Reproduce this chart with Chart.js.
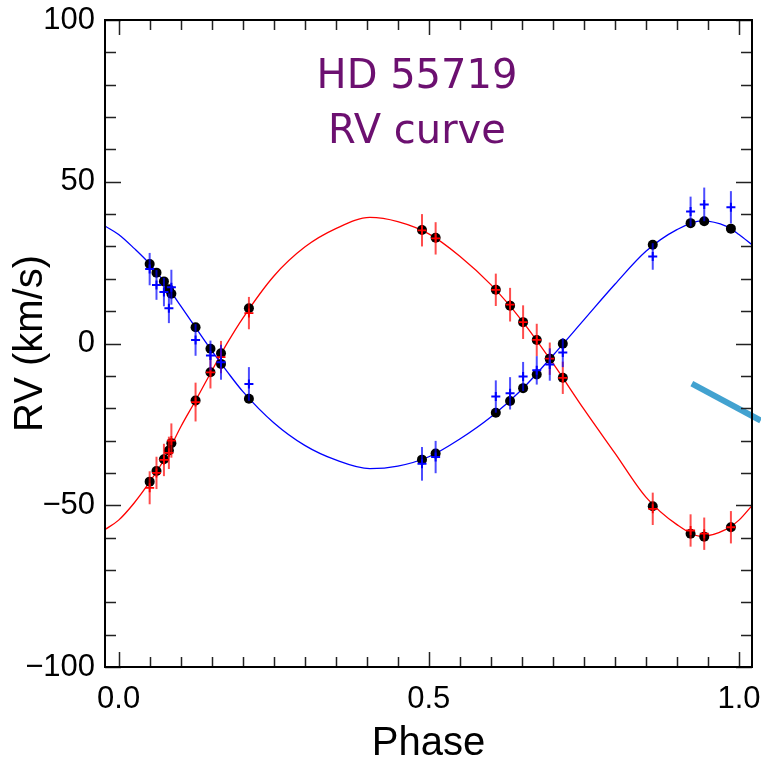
<!DOCTYPE html>
<html>
<head>
<meta charset="utf-8">
<script src="https://cdn.jsdelivr.net/npm/chart.js@4.4.0/dist/chart.umd.min.js"></script>
<style>
  html, body { margin: 0; padding: 0; background: #fff; }
</style>
</head>
<body>
<canvas id="rvChart" width="761" height="764"></canvas>
<script>
// phases of the spectra
const phase = [0.050, 0.061, 0.073, 0.081, 0.085, 0.124, 0.148, 0.165, 0.210, 0.489, 0.511,
  0.608, 0.631, 0.652, 0.674, 0.695, 0.716, 0.861, 0.922, 0.944, 0.987];

// primary (blue) : model values at the phases, measured RV, errors
const primaryModel = [24.6, 21.9, 19.2, 16.8, 15.4, 5.0, -1.6, -6.3, -17.1, -35.9, -34.0,
  -21.4, -17.8, -13.8, -9.6, -4.7, -0.1, 30.5, 37.2, 37.8, 35.5];
const primaryObs = [23.0, 18.1, 15.9, 10.9, 17.4, 1.1, -3.7, -5.8, -12.5, -37.2, -35.1,
  -16.4, -15.4, -10.2, -8.3, -6.5, -2.8, 26.9, 40.8, 43.0, 42.1];
const primaryErr = [5.0, 4.6, 4.4, 4.6, 5.4, 4.9, 4.6, 5.4, 5.2, 5.2, 5.0,
  5.0, 5.0, 4.5, 4.4, 5.0, 4.5, 4.1, 4.6, 5.2, 5.0];

// secondary (red)
const secondaryModel = [-42.7, -39.4, -35.8, -33.1, -30.8, -17.6, -8.9, -3.0, 10.9, 35.1, 32.7,
  16.6, 11.7, 6.6, 1.1, -4.7, -10.6, -50.3, -58.8, -59.7, -56.8];
const secondaryObs = [-44.6, -40.0, -36.0, -33.8, -30.0, -18.1, -8.9, -4.2, 9.4, 35.0, 32.5,
  16.6, 12.0, 6.6, 1.1, -4.7, -10.6, -51.1, -57.8, -58.8, -56.8];
const secondaryErr = [5.1, 5.0, 5.0, 5.0, 5.3, 6.0, 5.0, 5.0, 5.0, 5.0, 5.0,
  5.0, 5.2, 5.2, 5.0, 5.0, 5.0, 5.0, 5.0, 5.0, 5.0];

// fitted orbit curves
const curvePhase = [-0.022, 0.0, 0.025, 0.05, 0.075, 0.1, 0.125, 0.15, 0.175, 0.2, 0.25, 0.3, 0.35,
  0.405, 0.45, 0.5, 0.55, 0.6, 0.65, 0.7, 0.75, 0.8, 0.85, 0.9, 0.94, 0.98, 1.0, 1.021];
const primaryCurve = [36.3, 33.7, 29.4, 24.6, 18.6, 11.6, 4.7, -2.2, -8.7, -14.8, -24.5, -31.5, -36.0,
  -38.7, -37.9, -35.0, -29.5, -22.7, -14.2, -3.7, 7.3, 18.3, 28.5, 35.2, 37.9, 36.2, 33.7, 30.5];
const secondaryCurve = [-57.5, -54.6, -49.3, -42.8, -35.3, -25.8, -17.3, -8.5, 0.1, 7.8, 20.8, 29.8, 35.5,
  39.0, 37.7, 33.9, 27.0, 18.2, 7.1, -6.1, -20.3, -33.9, -47.5, -56.0, -59.6, -57.4, -54.6, -50.1];

// stray light blue stroke at the right
const strokeX = [0.924, 1.035];
const strokeY = [-12.4, -23.8];

const xTicks = [0.0, 0.5, 1.0];
const yTicks = [-100, -50, 0, 50, 100];
const titleLines = ["HD 55719", "RV curve"];

function pts(xs, ys) {
  return xs.map((x, i) => ({ x: x, y: ys[i] }));
}

// no extra room for the end labels, the plot box is fixed
function fixBox(s) {
  s.paddingLeft = 0;
  s.paddingRight = 0;
  s.paddingTop = 0;
  s.paddingBottom = 0;
}

const errorBars = {
  id: 'errorBars',
  beforeDatasetDraw(chart, args) {
    const ds = chart.data.datasets[args.index];
    if (!ds.errors) return;
    const ctx = chart.ctx;
    const xs = chart.scales.x, ys = chart.scales.y;
    ctx.save();
    ctx.strokeStyle = ds.errorColor;
    ctx.lineWidth = 2;
    ds.data.forEach((p, i) => {
      const px = xs.getPixelForValue(p.x);
      ctx.beginPath();
      ctx.moveTo(px, ys.getPixelForValue(p.y - ds.errors[i]));
      ctx.lineTo(px, ys.getPixelForValue(p.y + ds.errors[i]));
      ctx.stroke();
    });
    ctx.restore();
  }
};

// box round the plot, ticks pointing inwards on all four sides, and the label text
const frame = {
  id: 'frame',
  afterDraw(chart) {
    const ctx = chart.ctx;
    const a = chart.chartArea;
    const xs = chart.scales.x, ys = chart.scales.y;
    ctx.save();
    ctx.strokeStyle = '#222';
    ctx.lineWidth = 1.5;
    ctx.beginPath();
    for (let i = 0; i <= 20; i++) {
      const v = i * 0.05;
      const px = Math.round(xs.getPixelForValue(v)) + 0.5;
      const len = (i % 10 == 0) ? 15 : 10;
      ctx.moveTo(px, a.bottom); ctx.lineTo(px, a.bottom - len);
      ctx.moveTo(px, a.top); ctx.lineTo(px, a.top + len);
    }
    for (let i = -10; i <= 10; i++) {
      const py = Math.round(ys.getPixelForValue(i * 10)) + 0.5;
      const len = (i % 5 == 0) ? 16 : 11;
      ctx.moveTo(a.left, py); ctx.lineTo(a.left + len, py);
      ctx.moveTo(a.right, py); ctx.lineTo(a.right - len, py);
    }
    ctx.stroke();
    ctx.strokeStyle = '#000';
    ctx.lineWidth = 2;
    ctx.strokeRect(a.left, a.top, a.right - a.left, a.bottom - a.top);

    ctx.fillStyle = '#6c1070';
    ctx.font = '40px "DejaVu Sans"';
    ctx.textAlign = 'center';
    ctx.textBaseline = 'alphabetic';
    ctx.fillText(titleLines[0], 417, 88);
    ctx.fillText(titleLines[1], 417, 143);
    ctx.restore();
  }
};

const config = {
  type: 'scatter',
  data: {
    datasets: [
      {
        label: 'primary obs',
        data: pts(phase, primaryObs),
        errors: primaryErr,
        errorColor: 'rgba(0,0,255,0.7)',
        pointStyle: 'cross',
        pointRadius: 4.5,
        borderColor: '#0000ff',
        borderWidth: 2,
        order: 1,
      },
      {
        label: 'secondary obs',
        data: pts(phase, secondaryObs),
        errors: secondaryErr,
        errorColor: 'rgba(255,0,0,0.7)',
        pointStyle: 'cross',
        pointRadius: 4.5,
        borderColor: '#ff0000',
        borderWidth: 1.8,
        order: 2,
      },
      {
        label: 'primary model',
        data: pts(phase, primaryModel),
        pointRadius: 5,
        backgroundColor: '#000',
        borderWidth: 0,
        order: 3,
      },
      {
        label: 'secondary model',
        data: pts(phase, secondaryModel),
        pointRadius: 5,
        backgroundColor: '#000',
        borderWidth: 0,
        order: 4,
      },
      {
        label: 'primary fit',
        data: pts(curvePhase, primaryCurve),
        showLine: true,
        cubicInterpolationMode: 'monotone',
        pointRadius: 0,
        borderColor: '#0000ff',
        borderWidth: 1.3,
        order: 5,
      },
      {
        label: 'secondary fit',
        data: pts(curvePhase, secondaryCurve),
        showLine: true,
        cubicInterpolationMode: 'monotone',
        pointRadius: 0,
        borderColor: '#ff0000',
        borderWidth: 1.3,
        order: 6,
      },
      {
        label: 'stroke',
        data: pts(strokeX, strokeY),
        showLine: true,
        pointRadius: 0,
        borderColor: '#42a2d0',
        borderWidth: 6,
        clip: false,
        order: 0,
      },
    ],
  },
  options: {
    responsive: false,
    animation: false,
    layout: { padding: { top: 20, right: 9, left: 0, bottom: 0 } },
    plugins: {
      legend: { display: false },
      tooltip: { enabled: false },
    },
    scales: {
      x: {
        type: 'linear',
        min: -0.022,
        max: 1.021,
        grid: { display: false, drawTicks: false },
        border: { display: false },
        afterBuildTicks: (s) => { s.ticks = xTicks.map((v) => ({ value: v })); },
        afterFit: (s) => { s.height = 97; fixBox(s); },
        ticks: {
          color: '#000',
          padding: 14,
          maxRotation: 0,
          font: { family: '"Liberation Sans", Arial, sans-serif', size: 31 },
          callback: (v) => v.toFixed(1),
        },
        title: {
          display: true,
          text: 'Phase',
          color: '#000',
          padding: { top: 0, bottom: 0 },
          font: { family: '"Liberation Sans", Arial, sans-serif', size: 40, lineHeight: 1 },
        },
      },
      y: {
        type: 'linear',
        min: -100,
        max: 100,
        grid: { display: false, drawTicks: false },
        border: { display: false },
        afterBuildTicks: (s) => { s.ticks = yTicks.map((v) => ({ value: v })); },
        afterFit: (s) => { s.width = 105; fixBox(s); },
        ticks: {
          color: '#000',
          padding: 10,
          font: { family: '"Liberation Sans", Arial, sans-serif', size: 31 },
          callback: (v) => (v < 0 ? '\u2212' + Math.abs(v) : '' + v),
        },
        title: {
          display: true,
          text: 'RV (km/s)',
          color: '#000',
          padding: { top: 11, bottom: 0 },
          font: { family: '"Liberation Sans", Arial, sans-serif', size: 40, lineHeight: 1 },
        },
      },
    },
  },
  plugins: [errorBars, frame],
};

const rvChart = new Chart(document.getElementById('rvChart'), config);
</script>
</body>
</html>
